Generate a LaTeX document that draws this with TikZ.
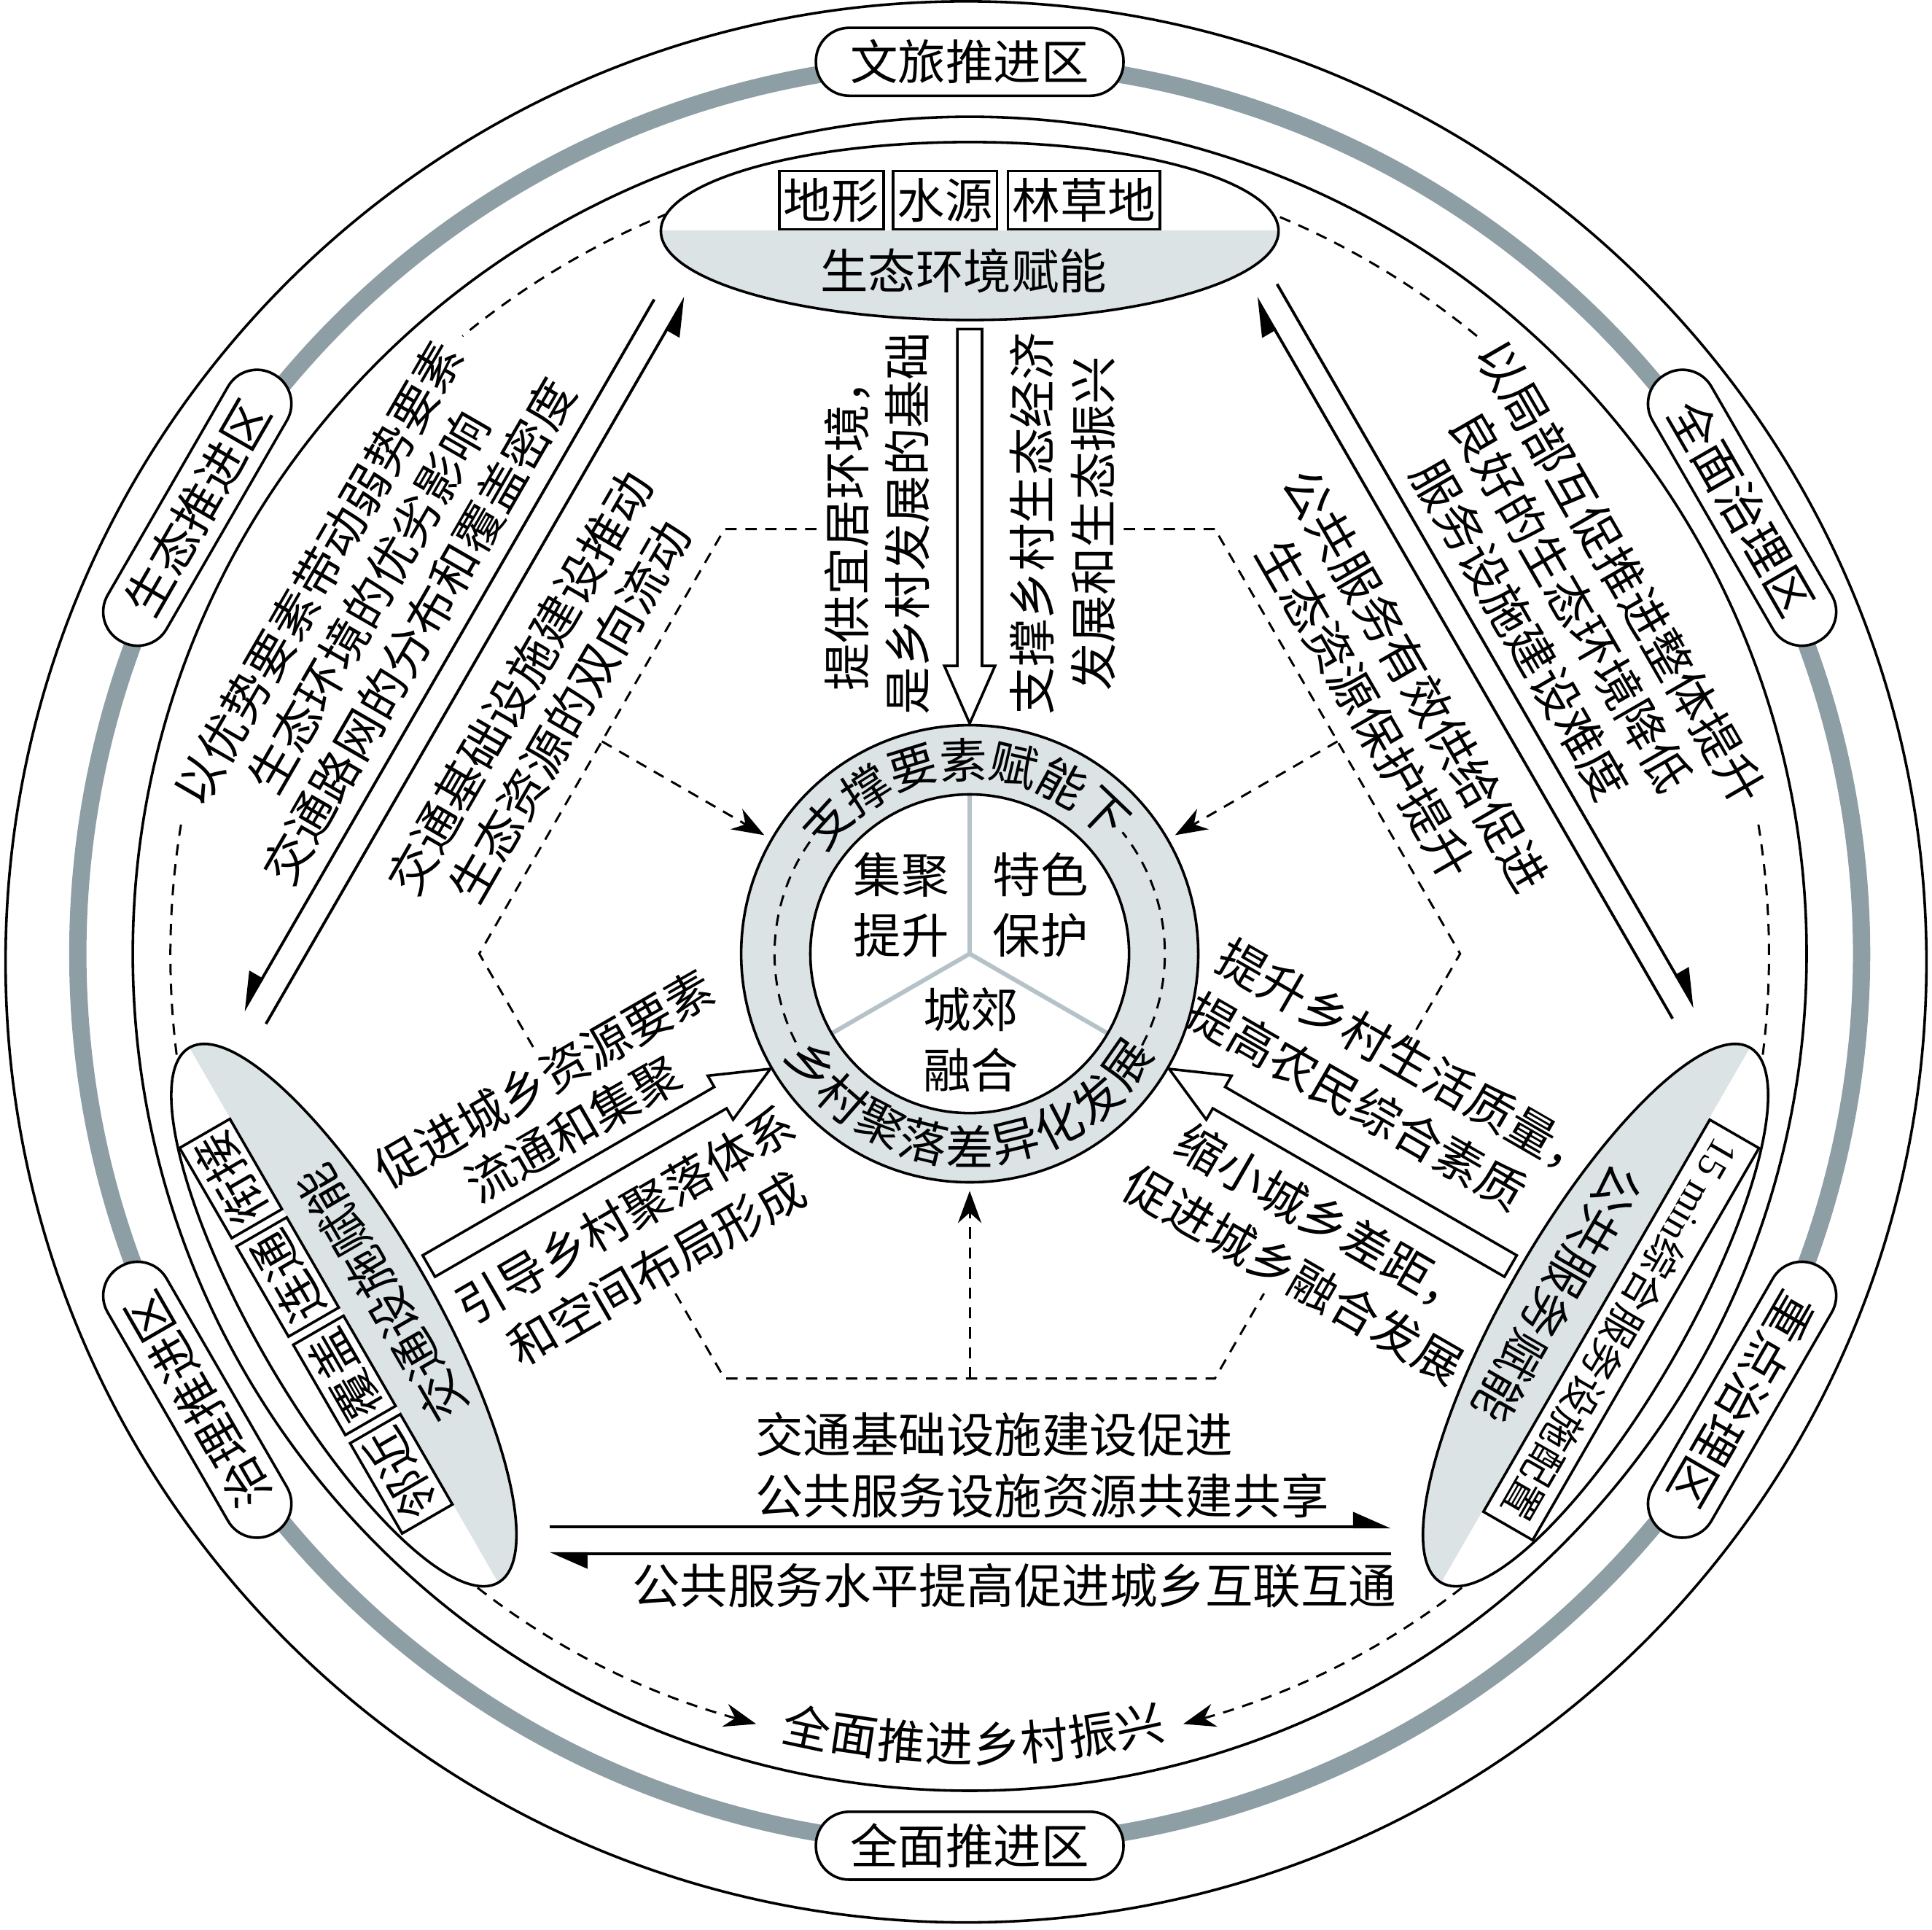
\documentclass[tikz,border=0pt]{standalone}
\usepackage{fontspec}
\setmainfont{Noto Sans CJK SC}
\newfontfamily\latinfont{Liberation Serif}
\usetikzlibrary{arrows.meta}
\definecolor{bandgray}{RGB}{142,158,165}
\definecolor{fillgray}{RGB}{220,227,229}
\definecolor{spokegray}{RGB}{181,194,199}

\begin{document}
\begin{tikzpicture}[
    font=\fontsize{11}{13.4}\selectfont,
    every node/.style={inner sep=0pt},
    zonelabel/.style={draw, fill=white, line width=0.6pt, rounded corners=0.27cm,
      minimum width=2.49cm, minimum height=0.55cm},
    factorbox/.style={draw, fill=white, line width=0.6pt, minimum height=0.47cm, inner xsep=0.035cm},
    dashline/.style={line width=0.5pt, dash pattern=on 2.6pt off 2pt},
    dasharrow/.style={dashline, -{Stealth[length=2.6mm, width=1.9mm]}},
    textblock/.style={align=center},
    halfleft/.style={line width=0.65pt, -{Triangle[left, length=2.8mm, width=2.4mm]}},
    halfright/.style={line width=0.65pt, -{Triangle[right, length=2.8mm, width=2.4mm]}},
    hollow/.style={draw, fill=white, line width=0.6pt},
  ]
  \useasboundingbox (-7.85,-7.902) rectangle (7.79,7.72);

  % Draw the outer rings
  \draw[line width=0.6pt] (-0.03,-0.066) circle (7.775);
  \draw[bandgray, line width=0.14cm] (0,0) circle (7.22);
  \draw[line width=0.6pt] (0,0) circle (6.775);

  % Zone labels on the grey band
  \node[zonelabel] (zoneN) at (90:7.22) {文旅推进区};
  \node[zonelabel, rotate=-60] (zoneNE) at (30:7.22) {全面治理区};
  \node[zonelabel, rotate=-120] (zoneSE) at (-30:7.22) {重点治理区};
  \node[zonelabel] (zoneS) at (270:7.22) {全面推进区};
  \node[zonelabel, rotate=120] (zoneSW) at (210:7.22) {治理推进区};
  \node[zonelabel, rotate=60] (zoneNW) at (150:7.22) {生态推进区};

  % Dashed circle, ending on the goal
  \coordinate (dashNE) at (50.6:6.47);
  \coordinate (dashW) at (170.7:6.47);
  \coordinate (dashE) at (9.3:6.47);
  \draw[dashline] (dashNE) arc[start angle=50.6, end angle=129.4, radius=6.47];
  \draw[dasharrow] (dashW) arc[start angle=170.7, end angle=254.5, radius=6.47];
  \draw[dasharrow] (dashE) arc[start angle=9.3, end angle=-74.5, radius=6.47];

  % Dashed hexagon round the core
  \foreach \a in {0,60,...,300} \coordinate (hex\a) at (\a:3.97);
  \draw[dashline] (hex60) -- (1.20,3.438);
  \draw[dashline] (-1.24,3.438) -- (hex120) -- (hex180) -- (-3.534,-0.755);
  \draw[dashline] (-2.382,-2.75) -- (hex240) -- (hex300) -- (2.382,-2.75);
  \draw[dashline] (3.534,-0.755) -- (hex0) -- (hex60);
  \foreach \a in {30,150,270} {
    \coordinate (mid\a) at (\a:3.438);
    \coordinate (rim\a) at (\a:1.92);
    \draw[dasharrow] (mid\a) -- (rim\a);
  }

  % Three enabling ellipses with hollow arrows to the core
  \foreach \r in {0,120,-120} {
    \begin{scope}[rotate=\r]
      \fill[white] (0,5.85) ellipse [x radius=2.5, y radius=0.72];
      \begin{scope}
        \clip (-2.6,5.85) rectangle (2.6,5.0);
        \fill[fillgray] (0,5.85) ellipse [x radius=2.5, y radius=0.72];
      \end{scope}
      \draw[line width=0.6pt] (0,5.85) ellipse [x radius=2.5, y radius=0.72];
      \draw[hollow] (-0.1,5.056) -- (-0.1,2.33) -- (-0.205,2.33) -- (0,1.864)
        -- (0.205,2.33) -- (0.1,2.33) -- (0.1,5.056) -- cycle;
    \end{scope}
  }

  % Ecology
  \node[factorbox] (terrain) at (-1.12,6.1) {地形};
  \node[factorbox] (water) at (-0.20,6.1) {水源};
  \node[factorbox] (forest) at (0.925,6.1) {林草地};
  \node (eco) at (-0.05,5.53) {生态环境赋能};
  % Traffic
  \begin{scope}[rotate=120, transform shape]
    \node[factorbox] (near) at (-1.345,6.09) {邻近};
    \node[factorbox] (cover) at (-0.425,6.09) {覆盖};
    \node[factorbox] (connect) at (0.495,6.09) {连通};
    \node[factorbox] (link) at (1.415,6.09) {衔接};
    \node (traffic) at (0,5.5) {交通设施赋能};
  \end{scope}
  % Public service
  \begin{scope}[rotate=-120, transform shape]
    \node[factorbox, font=\fontsize{9.2}{11}\selectfont, inner xsep=0.085cm, minimum height=0.46cm]
      (fifteen) at (0,6.09) {{\latinfont 15 min}综合服务设施配置};
    \node (service) at (0,5.5) {公共服务赋能};
  \end{scope}

  % Ecology <-> traffic
  \begin{scope}[rotate=60, transform shape]
    \coordinate (ecoTrafStart) at (3.31,4.86);
    \coordinate (ecoTrafEnd) at (-3.34,4.86);
    \coordinate (trafEcoStart) at (-3.34,4.65);
    \coordinate (trafEcoEnd) at (3.45,4.65);
    \draw[halfright] (ecoTrafStart) -- (ecoTrafEnd);
    \draw[halfright] (trafEcoStart) -- (trafEcoEnd);
    \node[textblock] (leftOuter) at (0.03,5.64)
      {以优势要素带动弱势要素\\生态环境的优劣影响\\交通路网的分布和覆盖密度};
    \node[textblock] (leftInner) at (0.08,4.02) {交通基础设施建设推动\\生态资源的双向流动};
  \end{scope}

  % Ecology <-> public service
  \begin{scope}[rotate=-60, transform shape]
    \coordinate (ecoServStart) at (-3.45,4.865);
    \coordinate (ecoServEnd) at (3.31,4.865);
    \coordinate (servEcoStart) at (3.30,4.665);
    \coordinate (servEcoEnd) at (-3.44,4.665);
    \draw[halfleft] (ecoServStart) -- (ecoServEnd);
    \draw[halfleft] (servEcoStart) -- (servEcoEnd);
    \node[textblock] (rightOuter) at (-0.04,5.64)
      {以局部互促推进整体提升\\良好的生态环境降低\\服务设施建设难度};
    \node[textblock] (rightInner) at (-0.11,4.0) {公共服务有效供给促进\\生态资源保护提升};
  \end{scope}

  % Traffic <-> public service
  \coordinate (trafServStart) at (-3.40,-4.64);
  \coordinate (trafServEnd) at (3.41,-4.64);
  \coordinate (servTrafStart) at (3.41,-4.856);
  \coordinate (servTrafEnd) at (-3.40,-4.856);
  \draw[halfleft] (trafServStart) -- (trafServEnd);
  \draw[halfleft] (servTrafStart) -- (servTrafEnd);
  \node[align=left, anchor=west, font=\fontsize{11}{14.2}\selectfont] (bottomUpper) at (-1.74,-4.14)
    {交通基础设施建设促进\\公共服务设施资源共建共享};
  \node (bottomLower) at (0.36,-5.116) {公共服务水平提高促进城乡互联互通};

  % Texts beside the hollow arrows
  \node[textblock, rotate=90, font=\fontsize{11}{14.1}\selectfont] (ecoLeft) at (-0.75,3.48)
    {提供宜居环境，\\是乡村发展的基础};
  \node[textblock, rotate=90, font=\fontsize{11}{14.1}\selectfont] (ecoRight) at (0.755,3.48)
    {支撑乡村生态经济\\发展和生态振兴};
  \begin{scope}[rotate=30, transform shape]
    \node[textblock] (trafUpper) at (-3.49,0.61) {促进城乡资源要素\\流通和集聚};
    \node[textblock, font=\fontsize{11}{14.2}\selectfont] (trafLower) at (-3.47,-0.69)
      {引导乡村聚落体系\\和空间布局形成};
  \end{scope}
  \begin{scope}[rotate=-30, transform shape]
    \node[align=left, anchor=west, font=\fontsize{11}{14.2}\selectfont] (servUpper) at (1.757,0.78)
      {提升乡村生活质量，\\提高农民综合素质};
    \node[textblock, font=\fontsize{11}{14.5}\selectfont] (servLower) at (3.57,-0.685)
      {缩小城乡差距，\\促进城乡融合发展};
  \end{scope}

  % Core ring
  \fill[fillgray] (0,0) circle (1.85);
  \draw[line width=0.6pt] (0,0) circle (1.85);
  \fill[white] (0,0) circle (1.29);
  \draw[dashline] (145:1.58) arc[start angle=145, end angle=208, radius=1.58];
  \draw[dashline] (-28:1.58) arc[start angle=-28, end angle=38.5, radius=1.58];
  \foreach \a in {90,210,330} \draw[spokegray, line width=1pt] (0,0) -- (\a:1.29);
  \draw[line width=0.6pt] (0,0) circle (1.29);
  \foreach \c [count=\i from 0] in {支,撑,要,素,赋,能,下}
    \node[rotate=137.5-15.2*\i-90] (ringTop\i) at ({137.5-15.2*\i}:1.57) {\c};
  \foreach \c [count=\i from 0] in {乡,村,聚,落,差,异,化,发,展}
    \node[rotate=215+13.75*\i+90] (ringBot\i) at ({215+13.75*\i}:1.56) {\c};
  \node[align=center, font=\fontsize{11}{13.9}\selectfont] (gather) at (-0.554,0.396) {集聚\\提升};
  \node[align=center, font=\fontsize{11}{13.9}\selectfont] (feature) at (0.573,0.396) {特色\\保护};
  \node[align=center, font=\fontsize{11}{13.9}\selectfont] (suburb) at (0.01,-0.695) {城郊\\融合};

  % Goal along the dashed circle
  \foreach \c [count=\i from 0] in {全,面,推,进,乡,村,振,兴}
    \node[rotate=258.1+3.47*\i+90] (goal\i) at ({258.1+3.47*\i}:6.40) {\c};
\end{tikzpicture}
\end{document}
